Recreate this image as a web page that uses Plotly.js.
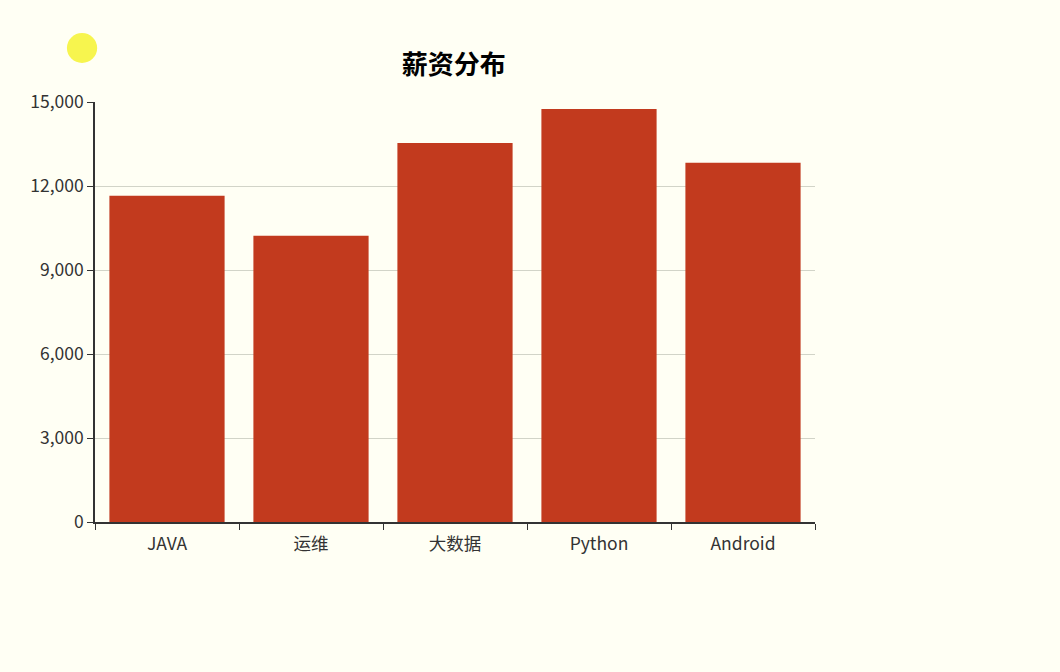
<!DOCTYPE html>
<html>
<head>
<meta charset="utf-8">
<script src="https://cdn.plot.ly/plotly-3.0.1.min.js"></script>
<style>
  html, body { margin: 0; padding: 0; background: #fffff4; }
  #chart { width: 1060px; height: 672px; }
</style>
</head>
<body>
<div id="chart"></div>
<script>
var categories = ['JAVA', '运维', '大数据', 'Python', 'Android'];
var salaries = [11650, 10220, 13540, 14750, 12830];

var trace = {
  x: categories,
  y: salaries,
  type: 'bar',
  name: '薪资',
  marker: { color: '#c23a1e' },
  hoverinfo: 'x+y'
};

var axisFont = { family: '"Noto Sans CJK SC", "Noto Sans", sans-serif', size: 17.5, color: '#333' };

var layout = {
  width: 1060,
  height: 672,
  paper_bgcolor: '#fffff4',
  plot_bgcolor: 'rgba(0,0,0,0)',
  margin: { l: 95, r: 245, t: 102, b: 150 },
  showlegend: false,
  bargap: 0.2,
  title: {
    text: '<b>薪资分布</b>',
    font: { family: '"Noto Sans CJK SC", sans-serif', size: 26, color: '#000' },
    x: 0.428, xanchor: 'center',
    y: 0.903, yanchor: 'middle'
  },
  xaxis: {
    showline: true, linecolor: '#333', linewidth: 1.5,
    ticks: 'outside', ticklen: 6, tickcolor: '#333',
    tickson: 'boundaries',
    ticklabelstandoff: 5,
    showgrid: false,
    tickfont: axisFont
  },
  yaxis: {
    range: [0, 15000],
    dtick: 3000,
    tickformat: ',d',
    showline: true, linecolor: '#333', linewidth: 1.5,
    ticks: 'outside', ticklen: 6, tickcolor: '#333',
    gridcolor: '#d2d4c8',
    zeroline: false,
    tickfont: axisFont
  },
  shapes: [{
    type: 'circle', xref: 'paper', yref: 'paper',
    x0: -0.039, x1: 0.003, y0: 1.093, y1: 1.164,
    fillcolor: '#f7f54e', line: { width: 0 }
  }]
};

Plotly.newPlot('chart', [trace], layout, { displayModeBar: false });
</script>
</body>
</html>
